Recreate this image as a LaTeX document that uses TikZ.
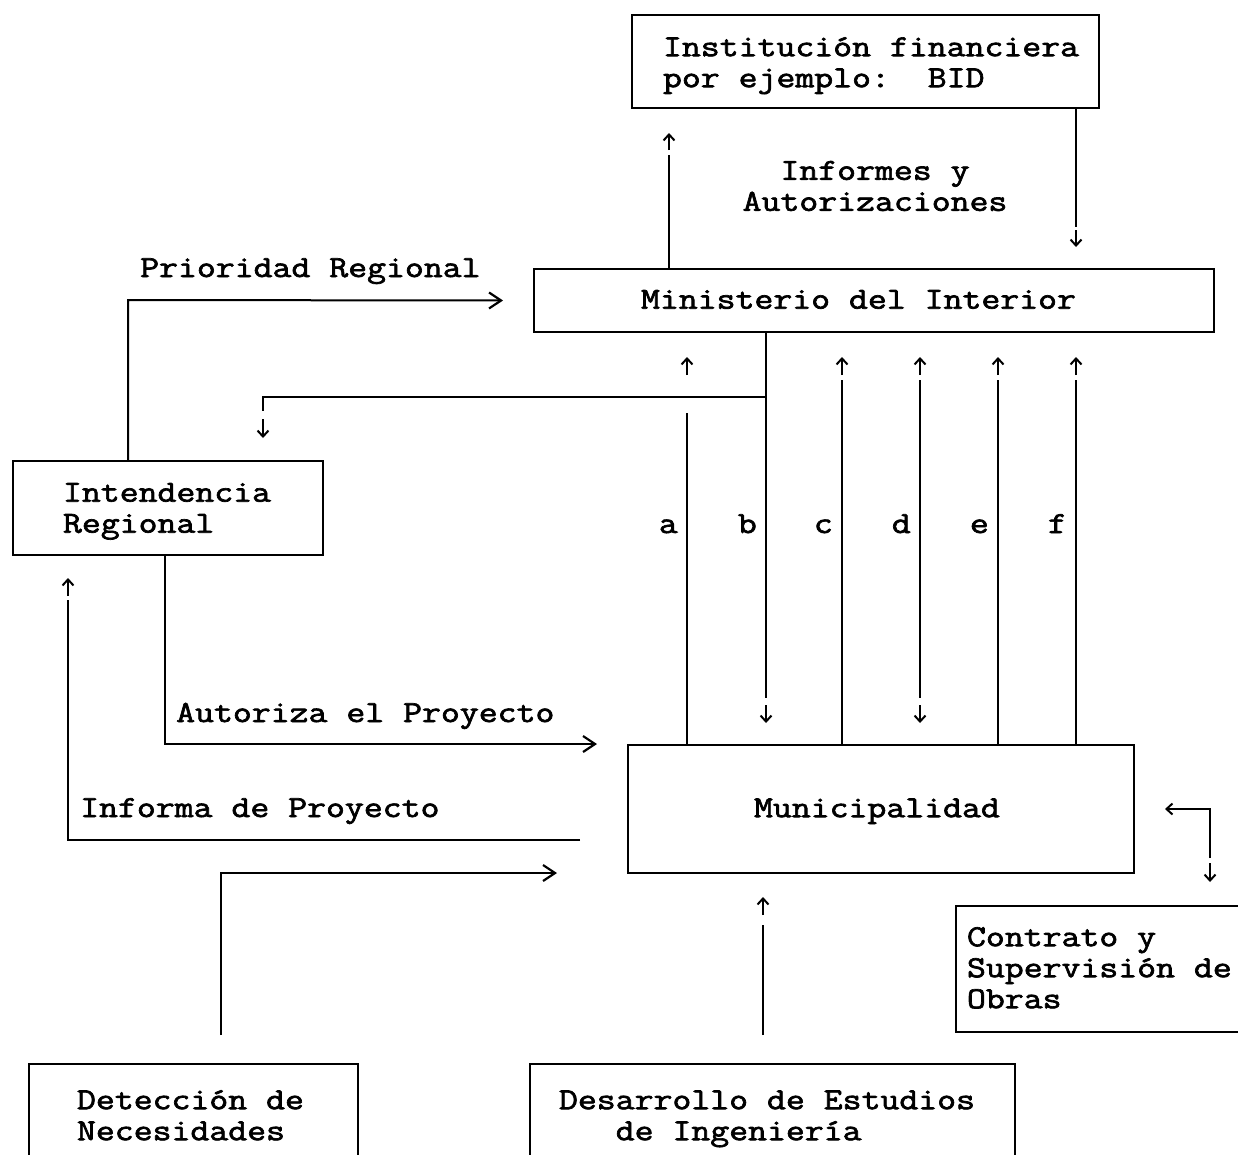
\documentclass[tikz,border=0pt]{standalone}
\usepackage{fontspec}
\newfontfamily\typewriter{Latin Modern Mono}[FakeBold=2.2,FakeStretch=1.2]
\usetikzlibrary{arrows.meta}
% box text: width, left pad, drop, lines
\newcommand\boxtext[4]{\makebox[#1][l]{\hspace*{#2}\raisebox{-#3}[\height][\depth]{\begin{tabular}{@{}l@{}}#4\end{tabular}}}}
\begin{document}
\begin{tikzpicture}[x=1pt,y=-1pt,
  font=\typewriter\fontsize{30.6}{31}\selectfont,
  box/.style={draw, rectangle, line width=2pt, inner sep=0pt, anchor=north west},
  wire/.style={line width=2pt},
  chev/.style={wire, -{Straight Barb[length=12pt,width=16pt,line width=2.2pt]}},
  small/.style={line width=2pt, -{Straight Barb[length=6pt,width=11pt,line width=2pt]}},
  lbl/.style={inner sep=0pt, anchor=base west},
  letter/.style={inner sep=0pt, anchor=base east}]
\useasboundingbox (0,0) rectangle (1238,1154);
\fill[white] (0,0) rectangle (1238,1154);
\clip (0,0) rectangle (1238,1154);

% boxes
\node[box, minimum width=467pt, minimum height=93pt] (inst) at (631,14)
  {\boxtext{467pt}{31pt}{4pt}{Institución financiera\\por ejemplo:\ \ BID}};
\node[box, minimum width=680pt, minimum height=63pt] (min) at (533,268)
  {\boxtext{680pt}{107pt}{2pt}{Ministerio del Interior}};
\node[box, minimum width=310pt, minimum height=94pt] (int) at (12,460)
  {\boxtext{310pt}{50pt}{3pt}{Intendencia\\Regional}};
\node[box, minimum width=506pt, minimum height=128pt] (mun) at (627,744)
  {\boxtext{506pt}{126pt}{2pt}{Municipalidad}};
\node[box, minimum width=345pt, minimum height=126pt] (con) at (955,905)
  {\boxtext{345pt}{11pt}{2pt}{Contrato y\\Supervisión de\\Obras}};
\node[box, minimum width=329pt, minimum height=107pt] (det) at (28,1063)
  {\boxtext{329pt}{48pt}{1pt}{Detección de\\Necesidades}};
\node[box, minimum width=485pt, minimum height=107pt] (des) at (529,1063)
  {\boxtext{485pt}{29pt}{1pt}{Desarrollo de Estudios\\\phantom{xxx}de Ingeniería}};

% free ends and corners
\coordinate (upI) at (669,155);
\coordinate (dnI) at (1076,227);
\coordinate (prC) at (128,300);
\coordinate (brR) at (766,397);
\coordinate (brL) at (263,411);
\coordinate (aTop) at (687,413);
\coordinate (bBot) at (766,698);
\coordinate (cTop) at (842,380);
\coordinate (dTop) at (920,380);
\coordinate (dBot) at (920,698);
\coordinate (eTop) at (998,380);
\coordinate (fTop) at (1076,380);
\coordinate (auC) at (165,744);
\coordinate (inR) at (580,840);
\coordinate (inC) at (68,840);
\coordinate (inTop) at (68,600);
\coordinate (deB) at (221,1035);
\coordinate (deC) at (221,873);
\coordinate (dsB) at (763,1035);
\coordinate (dsT) at (763,925);
\coordinate (coC) at (1210,809);
\coordinate (coB) at (1210,858);

% Ministerio <-> institucion
\draw[wire] (upI |- min.north) -- (upI);
\draw[small] (upI) ++(0,-5) -- ++(0,-17);
\draw[wire] (dnI |- inst.south) -- (dnI);
\draw[small] (dnI) ++(0,3) -- ++(0,17);
\node[align=center, inner sep=0pt] (infT) at (875,186) {Informes y\\Autorizaciones};

% Intendencia -> Ministerio
\draw[chev] (prC |- int.north) -- (prC) -- ([xshift=-30pt]min.west);
\node[lbl] (prT) at (140,277) {Prioridad Regional};

% Ministerio -> Intendencia branch
\draw[wire] (brR) -| (brL);
\draw[small] (brL) ++(0,8) -- ++(0,19);

% flows a..f
\draw[wire] (aTop |- mun.north) -- (aTop);
\draw[small] (aTop) ++(0,-38) -- ++(0,-18);
\draw[wire] (bBot |- min.south) -- (bBot);
\draw[small] (bBot) ++(0,7) -- ++(0,18);
\draw[wire] (cTop |- mun.north) -- (cTop);
\draw[small] (cTop) ++(0,-5) -- ++(0,-18);
\draw[wire] (dTop) -- (dBot);
\draw[small] (dTop) ++(0,-5) -- ++(0,-18);
\draw[small] (dBot) ++(0,7) -- ++(0,18);
\draw[wire] (eTop |- mun.north) -- (eTop);
\draw[small] (eTop) ++(0,-5) -- ++(0,-18);
\draw[wire] (fTop |- mun.north) -- (fTop);
\draw[small] (fTop) ++(0,-5) -- ++(0,-18);
\node[letter] (la) at (678,533) {a};
\node[letter] (lb) at (757,533) {b};
\node[letter] (lc) at (833,533) {c};
\node[letter] (ld) at (911,533) {d};
\node[letter] (le) at (989,533) {e};
\node[letter] (lf) at (1067,533) {f};

% Intendencia -> Municipalidad
\draw[chev] (auC |- int.south) -- (auC) -- ([xshift=-30pt]auC -| mun.west);
\node[lbl] (auT) at (176,722) {Autoriza el Proyecto};

% Municipalidad -> Intendencia
\draw[wire] (inR) -- (inC) -- (inTop);
\draw[small] (inTop) ++(0,-4) -- ++(0,-18);
\node[lbl] (inT) at (80,817) {Informa de Proyecto};

% Deteccion -> Municipalidad
\draw[chev] (deB) -- (deC) -- ([xshift=-70pt]deC -| mun.west);

% Desarrollo -> Municipalidad
\draw[wire] (dsB) -- (dsT);
\draw[small] (dsT) ++(0,-10) -- ++(0,-18);

% Municipalidad <-> Contrato
\draw[small] (coB) -- (coC) -- ([xshift=30pt]coC -| mun.east);
\draw[small] (coB) ++(0,5) -- ++(0,19);
\end{tikzpicture}
\end{document}
